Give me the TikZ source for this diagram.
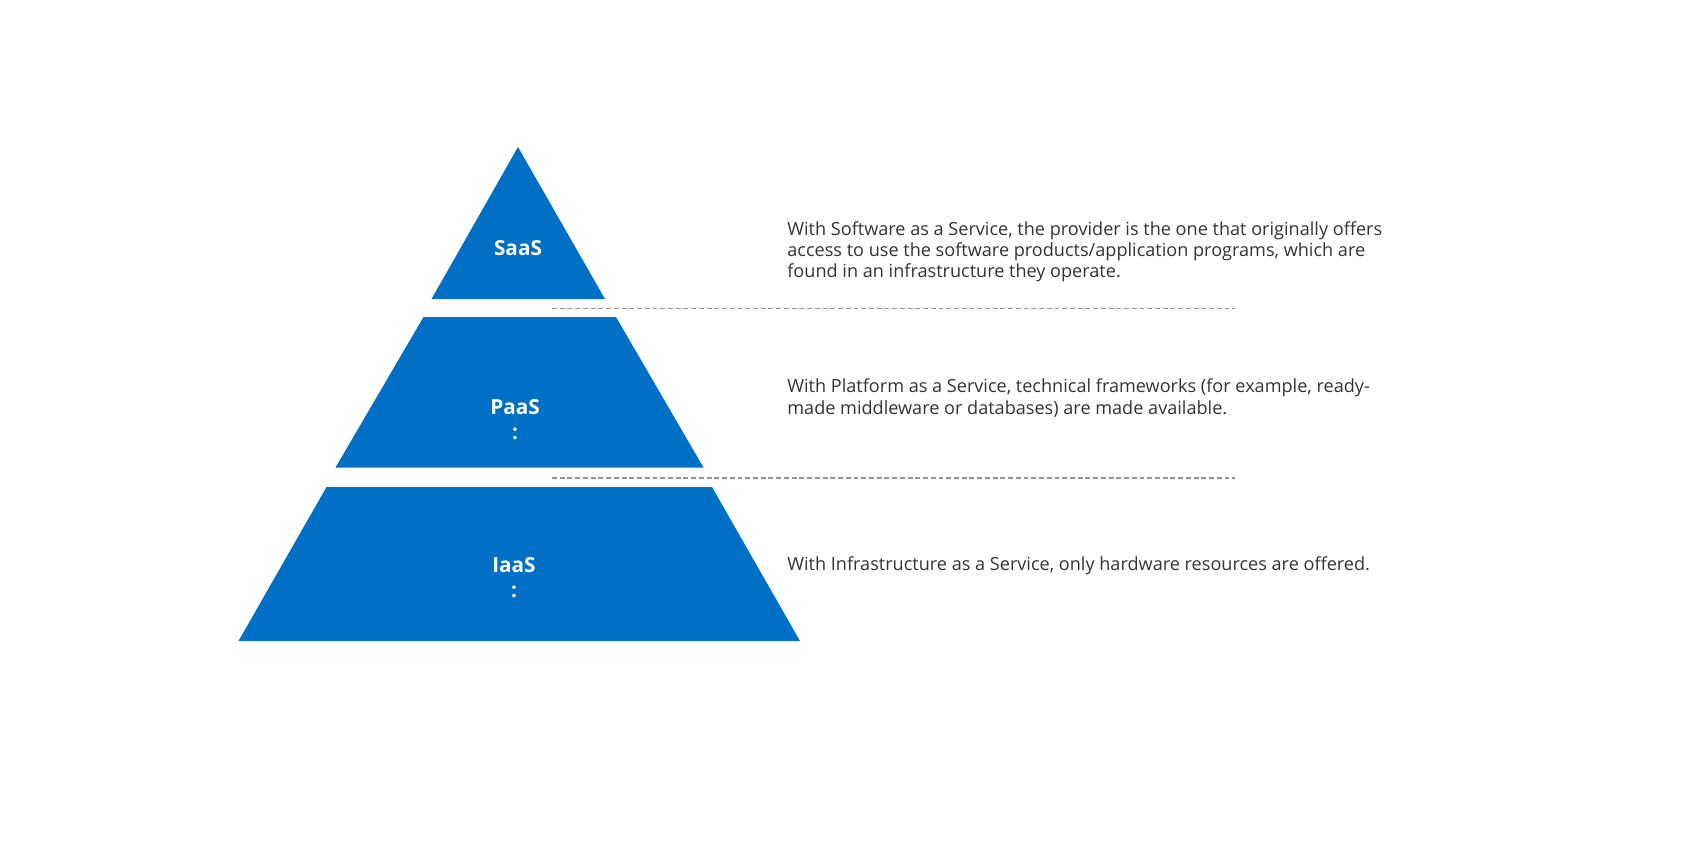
\documentclass[tikz,border=0pt]{standalone}
\usepackage{fontspec}
\setmainfont{Open Sans}
\usepackage{tikz}
\usetikzlibrary{positioning,calc}
\definecolor{tierblue}{RGB}{0,111,198}
\definecolor{bodygray}{RGB}{51,51,51}
\tikzset{
  tier/.style={fill=tierblue, draw=none},
  tierlabel/.style={text=white, font=\fontsize{11.8}{14.5}\selectfont\bfseries, align=center, inner sep=0pt},
  desc/.style={text=bodygray, font=\fontsize{10.3}{12}\selectfont, align=left, anchor=west, inner sep=0pt},
  divider/.style={gray!85, line width=0.8pt, dash pattern=on 2.8pt off 1.6pt}
}

\begin{document}
\begin{tikzpicture}[x=0.02cm, y=-0.02cm]
      \useasboundingbox (0,0) rectangle (1700,850);
      % --- pyramid tiers ---
      \fill[tier] (518,147) -- (605,299) -- (431.5,299) -- cycle;
      \fill[tier] (423.5,317) -- (616,317) -- (703.5,467.5) -- (335.5,467.5) -- cycle;
      \fill[tier] (326.5,487) -- (712,487) -- (800,641) -- (238.5,641) -- cycle;
      % tier names
      \node[tierlabel] (saas) at (518,248) {SaaS};
      \node[tierlabel, anchor=north] (paas) at (515,399) {PaaS\\:};
      \node[tierlabel, anchor=north] (iaas) at (514,557) {IaaS\\:};
      % dashed dividers
      \coordinate (d1a) at (552,308.5);
      \coordinate (d1b) at (1235,308.5);
      \coordinate (d2a) at (552,478);
      \coordinate (d2b) at (1235,478);
      \draw[divider] (d1a) -- (d1b);
      \draw[divider] (d2a) -- (d2b);
      % descriptions
      \node[desc] (saasdesc) at (787,252) {With Software as a Service, the provider is the one that originally offers\\
        access to use the software products/application programs, which are\\
        found in an infrastructure they operate.};
      \node[desc] (paasdesc) at (787,398) {With Platform as a Service, technical frameworks (for example, ready-\\
        made middleware or databases) are made available.};
      \node[desc] (iaasdesc) at (787,566) {With Infrastructure as a Service, only hardware resources are offered.};
\end{tikzpicture}
\end{document}
